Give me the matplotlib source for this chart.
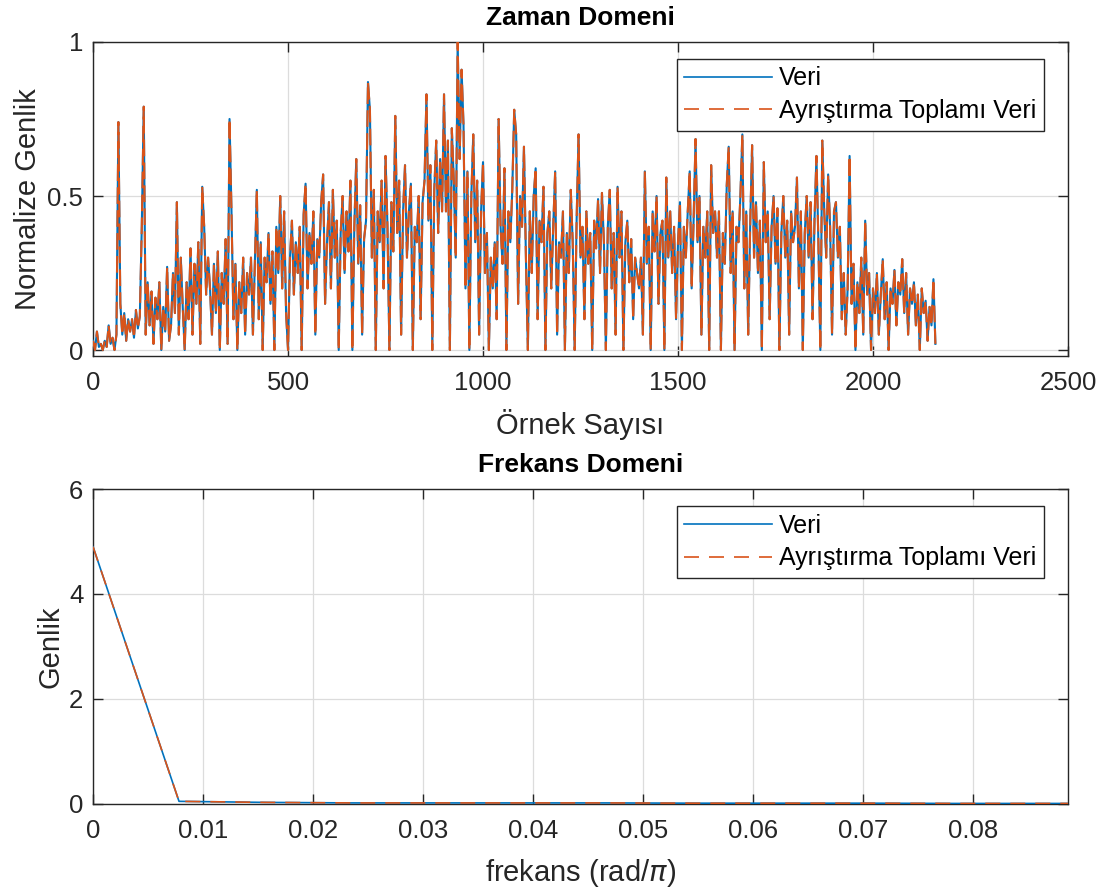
import matplotlib
matplotlib.use("Agg")
import matplotlib.pyplot as plt
import numpy as np

plt.rcParams['font.family'] = ['Liberation Sans', 'DejaVu Sans']
plt.rcParams['mathtext.fontset'] = 'dejavusans'

# ---- Time-domain data (normalized amplitude, one value every 5 samples) ----
sample_step = 5
veri = [
    0.03, 0.0, 0.06, 0.01, 0.02, 0.0, 0.03, 0.01, 0.08, 0.02, 0.04, 0.0, 0.05, 0.74, 0.15, 0.05, 0.12, 0.03, 0.10, 0.06,
    0.10, 0.04, 0.13, 0.07, 0.11, 0.40, 0.79, 0.05, 0.22, 0.08, 0.19, 0.02, 0.17, 0.10, 0.22, 0.0, 0.14, 0.06, 0.27, 0.03,
    0.08, 0.25, 0.12, 0.48, 0.05, 0.30, 0.14, 0.0, 0.22, 0.10, 0.33, 0.05, 0.28, 0.15, 0.35, 0.02, 0.53, 0.40, 0.18, 0.30,
    0.20, 0.05, 0.28, 0.12, 0.32, 0.0, 0.25, 0.15, 0.36, 0.02, 0.75, 0.45, 0.10, 0.28, 0.0, 0.22, 0.12, 0.30, 0.05, 0.25,
    0.18, 0.30, 0.05, 0.28, 0.52, 0.10, 0.35, 0.0, 0.30, 0.22, 0.38, 0.15, 0.32, 0.0, 0.40, 0.25, 0.50, 0.20, 0.45, 0.12,
    0.0, 0.30, 0.42, 0.18, 0.35, 0.25, 0.40, 0.0, 0.44, 0.54, 0.20, 0.38, 0.28, 0.45, 0.05, 0.36, 0.30, 0.48, 0.57, 0.15,
    0.35, 0.48, 0.20, 0.52, 0.30, 0.42, 0.0, 0.38, 0.50, 0.25, 0.45, 0.32, 0.55, 0.0, 0.40, 0.62, 0.28, 0.47, 0.05, 0.36,
    0.42, 0.87, 0.78, 0.30, 0.52, 0.0, 0.45, 0.35, 0.55, 0.20, 0.63, 0.40, 0.0, 0.48, 0.32, 0.76, 0.38, 0.55, 0.05, 0.45,
    0.60, 0.30, 0.45, 0.54, 0.0, 0.40, 0.35, 0.50, 0.10, 0.48, 0.55, 0.83, 0.42, 0.60, 0.0, 0.52, 0.68, 0.38, 0.62, 0.45,
    0.83, 0.45, 0.68, 0.0, 0.72, 0.55, 0.30, 1.0, 0.62, 0.91, 0.73, 0.20, 0.58, 0.0, 0.50, 0.70, 0.35, 0.55, 0.05, 0.45,
    0.61, 0.25, 0.38, 0.0, 0.30, 0.20, 0.35, 0.10, 0.75, 0.40, 0.28, 0.59, 0.0, 0.45, 0.35, 0.52, 0.78, 0.70, 0.15, 0.50,
    0.40, 0.66, 0.30, 0.0, 0.45, 0.25, 0.50, 0.59, 0.10, 0.42, 0.35, 0.53, 0.0, 0.38, 0.45, 0.20, 0.40, 0.58, 0.05, 0.35,
    0.30, 0.45, 0.0, 0.38, 0.25, 0.52, 0.35, 0.0, 0.42, 0.70, 0.30, 0.40, 0.10, 0.45, 0.28, 0.38, 0.0, 0.42, 0.33, 0.49,
    0.25, 0.51, 0.35, 0.0, 0.40, 0.52, 0.20, 0.38, 0.05, 0.53, 0.30, 0.45, 0.0, 0.35, 0.42, 0.22, 0.36, 0.10, 0.30, 0.25,
    0.20, 0.30, 0.05, 0.58, 0.28, 0.40, 0.0, 0.45, 0.32, 0.50, 0.15, 0.38, 0.42, 0.0, 0.56, 0.30, 0.45, 0.25, 0.40, 0.10,
    0.35, 0.48, 0.0, 0.40, 0.30, 0.45, 0.58, 0.20, 0.42, 0.685, 0.35, 0.50, 0.05, 0.40, 0.30, 0.45, 0.0, 0.60, 0.38, 0.45,
    0.30, 0.45, 0.0, 0.38, 0.28, 0.535, 0.66, 0.25, 0.45, 0.0, 0.40, 0.35, 0.50, 0.70, 0.20, 0.45, 0.05, 0.40, 0.665, 0.30,
    0.48, 0.25, 0.42, 0.0, 0.61, 0.35, 0.45, 0.10, 0.40, 0.50, 0.28, 0.46, 0.0, 0.38, 0.50, 0.30, 0.42, 0.05, 0.45, 0.35,
    0.40, 0.56, 0.20, 0.45, 0.0, 0.38, 0.50, 0.30, 0.48, 0.10, 0.42, 0.63, 0.35, 0.0, 0.68, 0.45, 0.30, 0.57, 0.40, 0.05,
    0.45, 0.48, 0.30, 0.40, 0.10, 0.25, 0.05, 0.20, 0.63, 0.15, 0.28, 0.0, 0.22, 0.12, 0.30, 0.05, 0.42, 0.18, 0.25, 0.0,
    0.20, 0.12, 0.25, 0.05, 0.18, 0.295, 0.10, 0.22, 0.0, 0.20, 0.15, 0.26, 0.08, 0.22, 0.18, 0.295, 0.12, 0.25, 0.05, 0.20,
    0.15, 0.22, 0.08, 0.18, 0.0, 0.20, 0.12, 0.16, 0.03, 0.14, 0.08, 0.23, 0.02,
]
# Decomposition sum reconstructs the data (overlaps it exactly in the figure)
ayristirma_toplami = list(veri)

# ---- Frequency-domain data ----
frekans = [0.0, 0.0078125, 0.015625, 0.0234375, 0.03125, 0.0390625, 0.046875,
           0.0546875, 0.0625, 0.0703125, 0.078125, 0.0859375, 0.09375]
genlik_veri = [4.9, 0.05, 0.03, 0.02, 0.02, 0.02, 0.02, 0.015, 0.015, 0.015, 0.01, 0.01, 0.01]
genlik_ayr = list(genlik_veri)

legend_labels = ['Veri', 'Ayrıştırma Toplamı Veri']
blue = '#0072BD'
orange = '#D95319'
axcol = '#262626'

fig = plt.figure(figsize=(11.05, 8.93), dpi=100)
ax1 = fig.add_axes([0.0842, 0.6013, 0.8823, 0.3517])
ax2 = fig.add_axes([0.0842, 0.0997, 0.8823, 0.3527])

samples = np.arange(len(veri)) * sample_step


def style(ax):
    for s in ax.spines.values():
        s.set_color(axcol)
        s.set_linewidth(1.0)
    ax.tick_params(direction='in', length=7, width=1.0, colors=axcol,
                   labelsize=18.5, top=True, right=True)
    ax.tick_params(axis='x', pad=11)
    ax.tick_params(axis='y', pad=7)
    ax.grid(True, color='#dcdcdc', linewidth=0.9)
    ax.set_axisbelow(True)


ax1.plot(samples, veri, color=blue, lw=1.5, label=legend_labels[0], zorder=3)
ax1.plot(samples, ayristirma_toplami, color=orange, lw=1.5, ls=(0, (8, 3)),
         label=legend_labels[1], zorder=4)
ax1.set_xlim(0, 2500)
ax1.set_ylim(-0.0195, 1.0)
ax1.set_xticks([0, 500, 1000, 1500, 2000, 2500])
ax1.set_yticks([0, 0.5, 1])
ax1.set_yticklabels(['0', '0.5', '1'])
style(ax1)
ax1.set_title('Zaman Domeni', fontsize=19, fontweight='bold', pad=12, color='black')
ax1.set_xlabel('Örnek Sayısı', fontsize=21, color=axcol, labelpad=10)
ax1.set_ylabel('Normalize Genlik', fontsize=21, color=axcol, labelpad=4)

ax2.plot(frekans, genlik_veri, color=blue, lw=1.2, label=legend_labels[0], zorder=3)
ax2.plot(frekans, genlik_ayr, color=orange, lw=1.2, ls=(0, (9, 6)),
         label=legend_labels[1], zorder=4)
ax2.set_xlim(0, 0.0886)
ax2.set_ylim(0, 6)
ax2.set_xticks([0, 0.01, 0.02, 0.03, 0.04, 0.05, 0.06, 0.07, 0.08])
ax2.set_xticklabels(['0', '0.01', '0.02', '0.03', '0.04', '0.05', '0.06', '0.07', '0.08'])
ax2.set_yticks([0, 2, 4, 6])
style(ax2)
ax2.set_title('Frekans Domeni', fontsize=19, fontweight='bold', pad=12, color='black')
ax2.set_xlabel(r'frekans (rad/$\pi$)', fontsize=21, color=axcol, labelpad=10)
ax2.set_ylabel('Genlik', fontsize=21, color=axcol, labelpad=3)

for ax in (ax1, ax2):
    leg = ax.legend(loc='upper right', bbox_to_anchor=(0.9755, 0.946), fontsize=18,
                    fancybox=False, framealpha=1, edgecolor=axcol,
                    handlelength=3.5, handletextpad=0.3, borderpad=0.3,
                    labelspacing=0.35, borderaxespad=0)
    leg.get_frame().set_linewidth(1.0)
    leg.set_zorder(10)
    hl = leg.get_lines()
    hl[0].set_linewidth(1.2)
    hl[1].set_linewidth(1.2)
    hl[1].set_linestyle((0, (9, 6)))

fig.savefig('out.png', dpi=100, facecolor='white')
